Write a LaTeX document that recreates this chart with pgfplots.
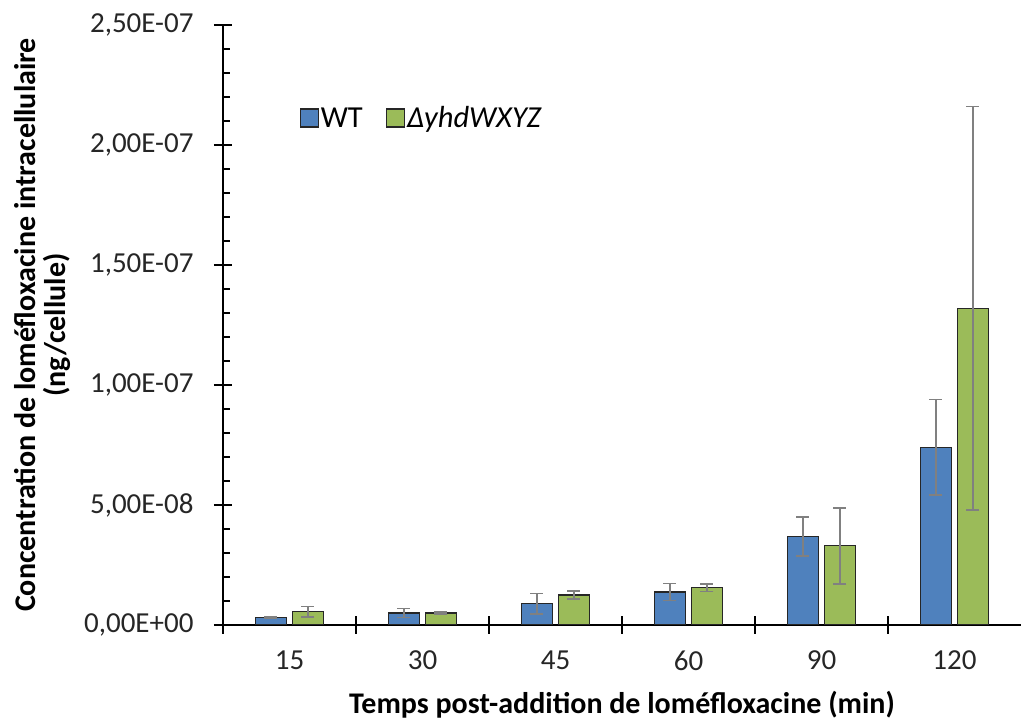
\documentclass[border=0pt]{standalone}
\usepackage{pgfplots}
\usepackage{pgfplotstable}
\pgfplotsset{compat=1.18}
\usepackage{fontspec}
\setmainfont{Carlito}
\definecolor{wtblue}{HTML}{4F81BD}
\definecolor{kogreen}{HTML}{9BBB59}
\definecolor{errgray}{HTML}{808080}

\pgfplotstableread{
x wt wterr ko koerr
0 3.2e-9 0.3e-9 5.5e-9 2.2e-9
1 5.0e-9 1.9e-9 5.0e-9 0.3e-9
2 8.9e-9 4.3e-9 12.5e-9 1.6e-9
3 13.75e-9 3.5e-9 15.5e-9 1.6e-9
4 36.8e-9 8.1e-9 33.0e-9 15.8e-9
5 74.0e-9 19.9e-9 132e-9 84e-9
}\data

\begin{document}
\begin{tikzpicture}
\begin{axis}[
  scale only axis, width=798pt, height=600pt,
  ybar=6pt, bar width=31pt,
  xmin=-0.5, xmax=5.5, ymin=0, ymax=2.5e-7,
  scaled y ticks=false,
  axis x line*=bottom, axis y line*=left,
  axis line style={black, line width=1.3pt, -},
  xtick={-0.5,0.5,1.5,2.5,3.5,4.5}, xticklabels={},
  extra x ticks={0,1,2,3,4,5},
  extra x tick labels={15,30,45,60,90,120},
  extra tick style={major tick length=0pt},
  ytick={0,5e-8,1e-7,1.5e-7,2e-7,2.5e-7},
  yticklabels={{0,00E+00},{5,00E-08},{1,00E-07},{1,50E-07},{2,00E-07},{2,50E-07}},
  minor y tick num=4,
  tick align=center, major tick length=18pt, minor tick length=7pt,
  every minor tick/.append style={xshift=3.5pt},
  every tick/.style={black, line width=1.3pt},
  ticklabel style={font=\fontsize{29}{32}\selectfont, text=black!85},
  xticklabel style={yshift=-22pt},
  yticklabel style={xshift=-17pt},
  ylabel={Concentration de loméfloxacine intracellulaire\\(ng/cellule)},
  ylabel style={align=center, font=\bfseries\fontsize{30}{30}\selectfont, at={(axis description cs:-0.2268,0.5)}, anchor=center},
  xlabel={Temps post-addition de loméfloxacine (min)},
  xlabel style={font=\bfseries\fontsize{30}{32}\selectfont, at={(axis description cs:0.5,-0.1333)}, anchor=center},
  legend style={at={(axis description cs:0.092,0.845)}, anchor=west, draw=none, fill=none,
    font=\fontsize{30.5}{33}\selectfont, /tikz/every even column/.append style={column sep=21pt}},
  legend columns=2,
  legend image code/.code={\draw[#1] (0pt,-9pt) rectangle (18pt,9pt);},
]
\addplot[fill=wtblue, draw=black!85, line width=1.2pt,
  error bars/.cd, y dir=both, y explicit,
  error bar style={errgray, line width=1.6pt},
  error mark options={rotate=90, errgray, mark size=6.5pt, line width=1.6pt}]
  table[x=x, y=wt, y error=wterr]{\data};
\addplot[fill=kogreen, draw=black!85, line width=1.2pt,
  error bars/.cd, y dir=both, y explicit,
  error bar style={errgray, line width=1.6pt},
  error mark options={rotate=90, errgray, mark size=6.5pt, line width=1.6pt}]
  table[x=x, y=ko, y error=koerr]{\data};
\legend{WT, \textit{ΔyhdWXYZ}}
\end{axis}
\pgfresetboundingbox
\useasboundingbox (-223pt,-95pt) rectangle (798pt,625pt);
\end{tikzpicture}
\end{document}
